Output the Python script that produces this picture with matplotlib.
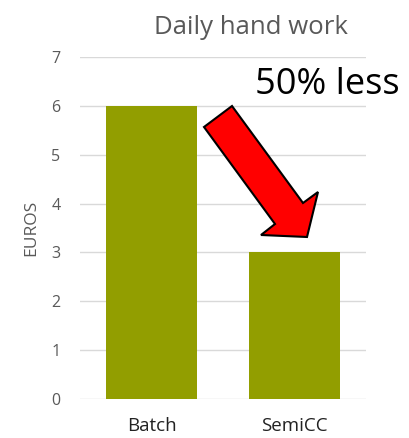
import matplotlib
matplotlib.use("Agg")
import matplotlib.pyplot as plt
from matplotlib.patches import Polygon
from matplotlib.transforms import Affine2D

categories = ["Batch", "SemiCC"]
values = [6, 3]
yticks = [0, 1, 2, 3, 4, 5, 6, 7]

W, H = 410, 438
fig = plt.figure(figsize=(W / 100, H / 100), dpi=100)
ax = fig.add_axes([80 / W, (H - 399) / H, (366 - 80) / W, (399 - 57) / H])

font = "Open Sans"
gray = "#595959"

ax.bar(range(len(categories)), values, width=0.63, color="#929E00", zorder=2)
ax.set_xlim(-0.5, 1.5)
ax.set_ylim(0, 7)
ax.set_yticks(yticks)
ax.set_yticklabels([str(t) for t in yticks], fontsize=11.5, color=gray, family=font)
ax.set_xticks(range(len(categories)))
ax.set_xticklabels(categories, fontsize=13.5, color="#222222", family=font)
ax.tick_params(length=0)
ax.tick_params(axis="y", pad=14)
ax.tick_params(axis="x", pad=13)
ax.grid(axis="y", color="#d9d9d9", linewidth=1, zorder=0)
for s in ax.spines.values():
    s.set_visible(False)
ax.set_ylabel("EUROS", fontsize=12.5, color=gray, family=font, labelpad=9)

fig.text(251 / W, 1 - 27 / H, "Daily hand work", ha="center", va="center",
         fontsize=18.5, color=gray, family=font)
fig.text(327 / W, 1 - 85 / H, "50% less", ha="center", va="center",
         fontsize=26, color="black", family=font)

# arrow in figure pixel coordinates
pix = Affine2D().scale(1 / W, -1 / H).translate(0, 1) + fig.transFigure
arrow_pts = [(204, 127), (232, 106), (303, 203), (318, 192), (307, 237),
             (261, 235), (275, 224)]
fig.patches.append(Polygon(arrow_pts, closed=True, facecolor="#ff0000",
                           edgecolor="black", linewidth=1.5, transform=pix,
                           figure=fig))

fig.savefig("out.png", dpi=100)
